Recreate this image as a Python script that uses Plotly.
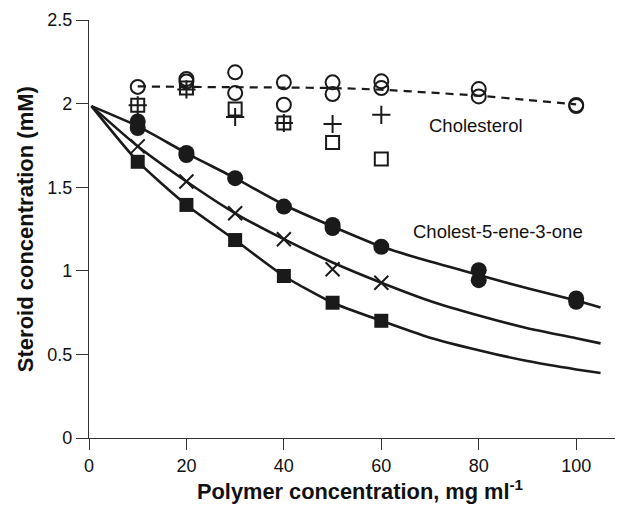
import plotly.graph_objects as go

# ---------------- data ----------------
# Cholesterol (open circles) and its dashed trend
chol_x = [10, 20, 20, 30, 30, 40, 40, 50, 50, 60, 60, 80, 80, 100, 100]
chol_y = [2.10, 2.147, 2.132, 2.187, 2.063, 2.127, 1.993, 2.127, 2.057, 2.133, 2.093, 2.087, 2.043, 1.992, 1.985]
chol_line_x = [10, 20, 30, 40, 50, 60, 70, 80, 90, 100]
chol_line_y = [2.103, 2.10, 2.098, 2.096, 2.093, 2.083, 2.066, 2.047, 2.022, 1.995]

# open squares and plus markers
sq_open_x = [10, 20, 30, 40, 50, 60]
sq_open_y = [1.99, 2.093, 1.968, 1.884, 1.768, 1.668]
plus_x = [10, 20, 30, 40, 50, 60]
plus_y = [1.99, 2.085, 1.92, 1.884, 1.878, 1.933]

# Cholest-5-ene-3-one (filled circles), crosses, filled squares
fc_x = [10, 10, 20, 20, 30, 40, 50, 50, 60, 80, 80, 100, 100]
fc_y = [1.893, 1.854, 1.705, 1.692, 1.554, 1.384, 1.274, 1.256, 1.144, 1.004, 0.944, 0.835, 0.815]
cross_x = [10, 20, 30, 40, 50, 60]
cross_y = [1.744, 1.534, 1.344, 1.189, 1.009, 0.929]
fsq_x = [10, 20, 30, 40, 50, 60]
fsq_y = [1.652, 1.394, 1.184, 0.969, 0.809, 0.701]

# fitted curves
fit_x = [0.5, 10, 20, 30, 40, 50, 60, 70, 80, 90, 100, 105]
fit_fc_y = [1.985, 1.865, 1.704, 1.554, 1.395, 1.265, 1.145, 1.055, 0.975, 0.895, 0.822, 0.781]
fit_cross_y = [1.985, 1.745, 1.534, 1.344, 1.189, 1.05, 0.929, 0.82, 0.733, 0.657, 0.597, 0.566]
fit_fsq_y = [1.985, 1.654, 1.394, 1.184, 0.969, 0.809, 0.701, 0.60, 0.525, 0.46, 0.41, 0.389]

x_ticks = [0, 20, 40, 60, 80, 100]
y_ticks = [0, 0.5, 1, 1.5, 2, 2.5]
y_tick_text = ["0", "0.5", "1", "1.5", "2", "2.5"]

FONT = "Liberation Sans, Arial, sans-serif"
INK = "#1a1a1a"

fig = go.Figure()

# fitted solid curves
for ys in (fit_fc_y, fit_cross_y, fit_fsq_y):
    fig.add_trace(go.Scatter(x=fit_x, y=ys, mode="lines",
                             line=dict(color=INK, width=2.6, shape="spline", smoothing=0.6),
                             hoverinfo="skip"))

# dashed cholesterol trend
fig.add_trace(go.Scatter(x=chol_line_x, y=chol_line_y, mode="lines",
                         line=dict(color=INK, width=2.2, dash="8px,6px", shape="spline", smoothing=0.8),
                         hoverinfo="skip"))

# markers
fig.add_trace(go.Scatter(x=chol_x, y=chol_y, mode="markers",
                         marker=dict(symbol="circle-open", size=14, color=INK, line=dict(width=2, color=INK))))
fig.add_trace(go.Scatter(x=sq_open_x, y=sq_open_y, mode="markers",
                         marker=dict(symbol="square-open", size=13, color=INK, line=dict(width=2, color=INK))))
fig.add_trace(go.Scatter(x=plus_x, y=plus_y, mode="markers",
                         marker=dict(symbol="cross-thin", size=13, color=INK, line=dict(width=2, color=INK))))
fig.add_trace(go.Scatter(x=fc_x, y=fc_y, mode="markers",
                         marker=dict(symbol="circle", size=16, color=INK, line=dict(width=0))))
fig.add_trace(go.Scatter(x=cross_x, y=cross_y, mode="markers",
                         marker=dict(symbol="x-thin", size=14, color=INK, line=dict(width=2, color=INK))))
fig.add_trace(go.Scatter(x=fsq_x, y=fsq_y, mode="markers",
                         marker=dict(symbol="square", size=14, color=INK, line=dict(width=0))))

# the page body has an 8px default margin, so the figure is sized to end at the window edge
fig.update_layout(
    width=615, height=497,
    margin=dict(l=81, r=2, t=12, b=67),
    paper_bgcolor="white", plot_bgcolor="white",
    showlegend=False,
    font=dict(family=FONT, size=18, color="#111"),
    xaxis=dict(range=[0, 109.2], tickvals=x_ticks, ticks="outside", ticklen=11, tickwidth=1,
               tickcolor="#333", showline=True, linecolor="#333", linewidth=1.2,
               showgrid=False, zeroline=False, tickfont=dict(size=18)),
    yaxis=dict(range=[0, 2.5], tickvals=y_ticks, ticktext=y_tick_text, ticks="outside",
               ticklen=12, tickwidth=1, tickcolor="#333", showline=True, linecolor="#333",
               linewidth=1.2, showgrid=False, zeroline=False, tickfont=dict(size=18)),
    annotations=[
        dict(text="<b>Steroid concentration (mM)</b>", textangle=-90, xref="paper", yref="paper",
             x=-0.12, y=0.5, xanchor="center", yanchor="middle", showarrow=False,
             font=dict(size=22, family=FONT, color="#111")),
        dict(text="<b>Polymer concentration, mg ml<sup>-1</sup></b>", xref="paper", yref="paper",
             x=0.51, y=-0.125, xanchor="center", yanchor="middle", showarrow=False,
             font=dict(size=21.8, family=FONT, color="#111")),
        dict(text="Cholesterol", x=69.4, y=1.869, xref="x", yref="y", xanchor="left",
             yanchor="middle", showarrow=False, font=dict(size=18.5, family=FONT, color="#111")),
        dict(text="Cholest-5-ene-3-one", x=66.1, y=1.238, xref="x", yref="y", xanchor="left",
             yanchor="middle", showarrow=False, font=dict(size=18.5, family=FONT, color="#111")),
    ],
)

fig.write_html("out.html")
